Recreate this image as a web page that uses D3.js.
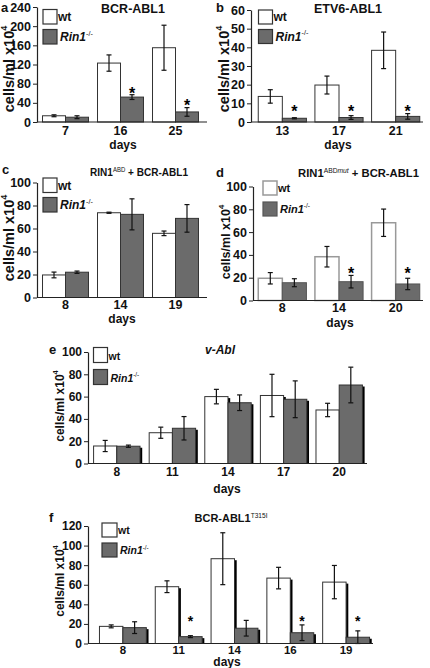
<!DOCTYPE html>
<html><head><meta charset="utf-8">
<script src="https://cdn.jsdelivr.net/npm/d3@7"></script>
<style>
body{margin:0;background:#fff}
svg{display:block;font-family:"Liberation Sans",Arial,sans-serif;font-weight:bold}
</style>
</head><body>
<svg id="chart" width="430" height="668"></svg>
<script>
// ---------- data ----------
const catsA = ["7","16","25"];
const wtA = [13,123,155];
const wtErrA = [2,17,47];
const rinA = [10,52,21];
const rinErrA = [3,5,9];
const starA = [null,67,42];
const yTicksA = [0,40,80,120,160,200,240];

const catsB = ["13","17","21"];
const wtB = [13.7,19.8,38.4];
const wtErrB = [3.6,4.8,9.8];
const rinB = [2,2.4,3];
const rinErrB = [0.3,1,1.5];
const starB = [7.3,7.3,7.3];
const yTicksB = [0,10,20,30,40,50,60];

const catsC = ["8","14","19"];
const wtC = [19.6,73.7,55.8];
const wtErrC = [2.5,0.5,2];
const rinC = [22,72.3,68.8];
const rinErrC = [1,13.5,12];
const starC = [null,null,null];
const yTicksC = [0,20,40,60,80,100];

const catsD = ["8","14","20"];
const wtD = [19.5,38.4,68.2];
const wtErrD = [5,9,12];
const rinD = [15.6,16.5,14.5];
const rinErrD = [3.5,5.5,5];
const starD = [null,26.8,26.8];
const yTicksD = [0,20,40,60,80,100];

const catsE = ["8","11","14","17","20"];
const wtE = [15.7,27.6,60,61,48];
const wtErrE = [5,5,6.5,19,6];
const rinE = [15.5,31.6,54.5,57.6,70.4];
const rinErrE = [1,10.5,7,16.5,16];
const starE = [null,null,null,null,null];
const yTicksE = [0,20,40,60,80,100];

const catsF = ["8","11","14","16","19"];
const wtF = [17.5,58,86.6,66.8,62.7];
const wtErrF = [1.5,6,26.5,11,17];
const rinF = [16.2,7,15.6,11,6.4];
const rinErrF = [6,1,8,8,6.5];
const starF = [null,25.7,null,25.7,25.7];
const yTicksF = [0,20,40,60,80,100,120];

const legendLabels = ["wt","Rin1","-/-"];
const yLabel = ["cells/ml x10","4"];
const xLabel = "days";

// ---------- drawing ----------
const svg = d3.select("#chart");
const GRAY = "#6b6b6b";

function panel(p){
  const g = svg.append("g");
  const yMax = p.yTicks[p.yTicks.length-1];
  const y = d3.scaleLinear().domain([0,yMax]).range([p.y0,p.yTop]);
  const x = d3.scaleBand().domain(p.cats).range(p.band)
              .paddingInner(p.pad).paddingOuter(p.pad/2);
  const bw = x.bandwidth()/2;
  const series = [
    {vals:p.wt, err:p.wtErr, off:0, fill:"#fff", stroke:p.wtStroke||"#333", sw:p.wtSw||1},
    {vals:p.rin, err:p.rinErr, off:bw, fill:GRAY, stroke:p.rinStroke||"#333", sw:1}
  ];
  if(p.shadow){
    series.forEach(s=>{
      g.selectAll(null).data(p.cats).join("rect")
        .attr("x",(c)=>x(c)+s.off+2.2)
        .attr("y",(c,i)=>y(s.vals[i])+1.5)
        .attr("width",bw)
        .attr("height",(c,i)=>Math.max(0,y(0)-y(s.vals[i])-1.5))
        .attr("fill","#000");
    });
  }
  series.forEach(s=>{
    g.selectAll(null).data(p.cats).join("rect")
      .attr("x",(c)=>x(c)+s.off)
      .attr("y",(c,i)=>y(s.vals[i]))
      .attr("width",bw)
      .attr("height",(c,i)=>y(0)-y(s.vals[i]))
      .attr("fill",s.fill).attr("stroke",s.stroke).attr("stroke-width",s.sw);
  });
  // error bars
  series.forEach(s=>{
    const cx = (c)=>x(c)+s.off+bw/2;
    const eg = g.selectAll(null).data(p.cats).join("g");
    eg.append("line").attr("x1",cx).attr("x2",cx)
      .attr("y1",(c,i)=>y(s.vals[i]+s.err[i])).attr("y2",(c,i)=>y(Math.max(0,s.vals[i]-s.err[i])))
      .attr("stroke","#111").attr("stroke-width",1.2);
    [1,-1].forEach(sg=>{
      eg.append("line").attr("x1",c=>cx(c)-2.5).attr("x2",c=>cx(c)+2.5)
        .attr("y1",(c,i)=>y(Math.max(0,s.vals[i]+sg*s.err[i])))
        .attr("y2",(c,i)=>y(Math.max(0,s.vals[i]+sg*s.err[i])))
        .attr("stroke","#111").attr("stroke-width",1.2);
    });
  });
  // stars
  g.selectAll(null).data(p.cats.filter((c,i)=>p.star[i]!=null)).join("text")
    .attr("x",c=>x(c)+bw*1.5)
    .attr("y",c=>y(p.star[p.cats.indexOf(c)])+0.56*p.starFs)
    .attr("text-anchor","middle").attr("font-size",p.starFs).text("*");
  // y axis
  const ya = g.append("g").attr("transform",`translate(${p.axisX},0)`)
    .call(d3.axisLeft(y).tickValues(p.yTicks).tickSize(4).tickSizeOuter(0).tickPadding(2).tickFormat(d3.format("d")));
  ya.select(".domain").attr("stroke","#222").attr("stroke-width",1.2);
  ya.selectAll(".tick line").attr("stroke","#222");
  ya.selectAll("text").attr("font-size",p.tickFs).attr("font-weight","bold").attr("fill","#111");
  // x axis line
  g.append("line").attr("x1",p.axisX).attr("x2",p.axisEnd).attr("y1",p.y0).attr("y2",p.y0)
    .attr("stroke","#222").attr("stroke-width",1.2);
  const xa = g.append("g").attr("transform",`translate(0,${p.y0})`)
    .call(d3.axisBottom(x).tickSize(0).tickPadding(p.catPad));
  xa.select(".domain").remove();
  xa.selectAll("text").attr("font-size",p.catFs).attr("font-weight","bold").attr("fill","#111");
  // days
  g.append("text").attr("x",p.days[0]).attr("y",p.days[1]).attr("text-anchor","middle")
    .attr("font-size",p.daysFs).attr("fill","#111").text(xLabel);
  // y label
  const yl = g.append("text").attr("transform",`translate(${p.yl[0]},${p.yl[1]}) rotate(-90)`)
    .attr("text-anchor","middle").attr("font-size",p.ylFs).attr("fill","#111");
  yl.append("tspan").text(yLabel[0]);
  yl.append("tspan").attr("font-size",p.ylFs*0.62).attr("dy",-p.ylFs*0.42).text(yLabel[1]);
  // panel letter
  g.append("text").attr("x",p.letter[0]).attr("y",p.letter[1]).attr("font-size",13).attr("fill","#111").text(p.letterText);
  // legend
  const L = p.legend;
  g.append("rect").attr("x",L.x).attr("y",L.y).attr("width",L.w).attr("height",L.h)
    .attr("fill","#fff").attr("stroke",p.wtStroke||"#333").attr("stroke-width",p.wtSw||1.2);
  g.append("rect").attr("x",L.x).attr("y",L.y+L.sp).attr("width",L.w).attr("height",L.h)
    .attr("fill",GRAY).attr("stroke",p.rinStroke||"#333").attr("stroke-width",1.2);
  g.append("text").attr("x",L.x+L.w+1).attr("y",L.y+L.h-3).attr("font-size",L.fs).attr("fill","#111").text(legendLabels[0]);
  const rt = g.append("text").attr("x",L.x+L.w+3).attr("y",L.y+L.sp+L.h-3).attr("font-size",L.fs)
    .attr("font-style","italic").attr("fill","#111");
  rt.append("tspan").text(legendLabels[1]);
  rt.append("tspan").attr("font-size",L.fs*0.6).attr("dy",-L.fs*0.42).attr("font-style","normal").attr("font-weight","normal").text(legendLabels[2]);
  // title
  p.title(g);
}

// title with superscripts; horizontally scaled to a target width when given
function supTitle(g, x, yb, fs, parts, len){
  const tg = g.append("g").attr("transform",`translate(${x},${yb})`);
  const t = tg.append("text").attr("x",0).attr("y",0).attr("text-anchor","middle").attr("font-size",fs).attr("fill","#111");
  let shifted = 0;
  parts.forEach(pt=>{
    const ts = t.append("tspan").text(pt.t);
    if(pt.sup){ ts.attr("font-size",fs*0.6).attr("dy",shifted? 0 : -fs*0.38).attr("font-weight","normal"); shifted = 1; }
    else if(shifted){ ts.attr("dy",fs*0.38); shifted = 0; }
    if(pt.it) ts.attr("font-style","italic");
  });
  if(len){
    const w = t.node().getComputedTextLength();
    if(w>0) tg.attr("transform",`translate(${x},${yb}) scale(${len/w},1)`);
  }
  return t;
}

panel({cats:catsA, wt:wtA, wtErr:wtErrA, rin:rinA, rinErr:rinErrA, star:starA, yTicks:yTicksA,
  y0:122, yTop:7, axisX:37, axisEnd:207, band:[38,203], pad:0.164,
  tickFs:12.5, catFs:12.5, catPad:4, starFs:16, daysFs:12, days:[123,149], ylFs:14.5, yl:[13.5,69],
  letter:[1,12], letterText:"a", legend:{x:43,y:9.5,w:14,h:14.5,sp:20,fs:12},
  title:g=>supTitle(g,133,12.5,12.5,[{t:"BCR-ABL1"}])});

panel({cats:catsB, wt:wtB, wtErr:wtErrB, rin:rinB, rinErr:rinErrB, star:starB, yTicks:yTicksB,
  y0:122, yTop:10, axisX:251, axisEnd:423, band:[254,424], pad:0.15,
  tickFs:12.5, catFs:12.5, catPad:4, starFs:16, daysFs:12, days:[338,149], ylFs:14.5, yl:[228.5,69],
  letter:[216,12], letterText:"b", legend:{x:258.5,y:10,w:14,h:14,sp:19.5,fs:12},
  title:g=>supTitle(g,348,12.5,12.5,[{t:"ETV6-ABL1"}])});

panel({cats:catsC, wt:wtC, wtErr:wtErrC, rin:rinC, rinErr:rinErrC, star:starC, yTicks:yTicksC,
  y0:297.5, yTop:182.5, axisX:37, axisEnd:207, band:[38,203], pad:0.164,
  tickFs:12.5, catFs:12.5, catPad:3, starFs:16, daysFs:12, days:[122,323], ylFs:14.5, yl:[13.5,238],
  letter:[2,174], letterText:"c", legend:{x:43,y:178,w:14,h:14.5,sp:19.5,fs:12},
  title:g=>supTitle(g,139,176,11.5,[{t:"RIN1"},{t:"ABD",sup:1},{t:" + BCR-ABL1"}],98)});

panel({cats:catsD, wt:wtD, wtErr:wtErrD, rin:rinD, rinErr:rinErrD, star:starD, yTicks:yTicksD,
  y0:300.5, yTop:186.5, axisX:253, axisEnd:423, band:[254,424], pad:0.15,
  wtStroke:"#999", wtSw:1.5, rinStroke:"#555",
  tickFs:12.5, catFs:12.5, catPad:3, starFs:16, daysFs:12, days:[340,327], ylFs:12.5, yl:[229.5,242],
  letter:[216,177], letterText:"d", legend:{x:263,y:181,w:14,h:14,sp:21,fs:11},
  title:g=>supTitle(g,358.5,177,11.5,[{t:"RIN1"},{t:"ABD",sup:1},{t:"mut",sup:1,it:1},{t:" + BCR-ABL1"}],121)});

panel({cats:catsE, wt:wtE, wtErr:wtErrE, rin:rinE, rinErr:rinErrE, star:starE, yTicks:yTicksE,
  y0:463.5, yTop:352, axisX:88, axisEnd:367, band:[89,367], pad:0.165, shadow:true,
  tickFs:12, catFs:12, catPad:4, starFs:15, daysFs:12, days:[227,493], ylFs:12, yl:[63.5,406],
  letter:[49,354], letterText:"e", legend:{x:93.5,y:347.5,w:14,h:15,sp:22,fs:10.5},
  title:g=>{ g.append("text").attr("x",205).attr("y",354).attr("font-size",12).attr("font-style","italic").attr("fill","#111").text("v-Abl"); }});

panel({cats:catsF, wt:wtF, wtErr:wtErrF, rin:rinF, rinErr:rinErrF, star:starF, yTicks:yTicksF,
  y0:643.5, yTop:526, axisX:88, axisEnd:373, band:[95,374], pad:0.16, shadow:true,
  tickFs:12, catFs:11.5, catPad:2.5, starFs:14, daysFs:12, days:[227,666], ylFs:12, yl:[63.5,581],
  letter:[49,522], letterText:"f", legend:{x:102,y:523,w:15,h:14,sp:20,fs:10.5},
  title:g=>supTitle(g,231,522,10.5,[{t:"BCR-ABL1"},{t:"T315I",sup:1}],73)});
</script>
</body></html>
